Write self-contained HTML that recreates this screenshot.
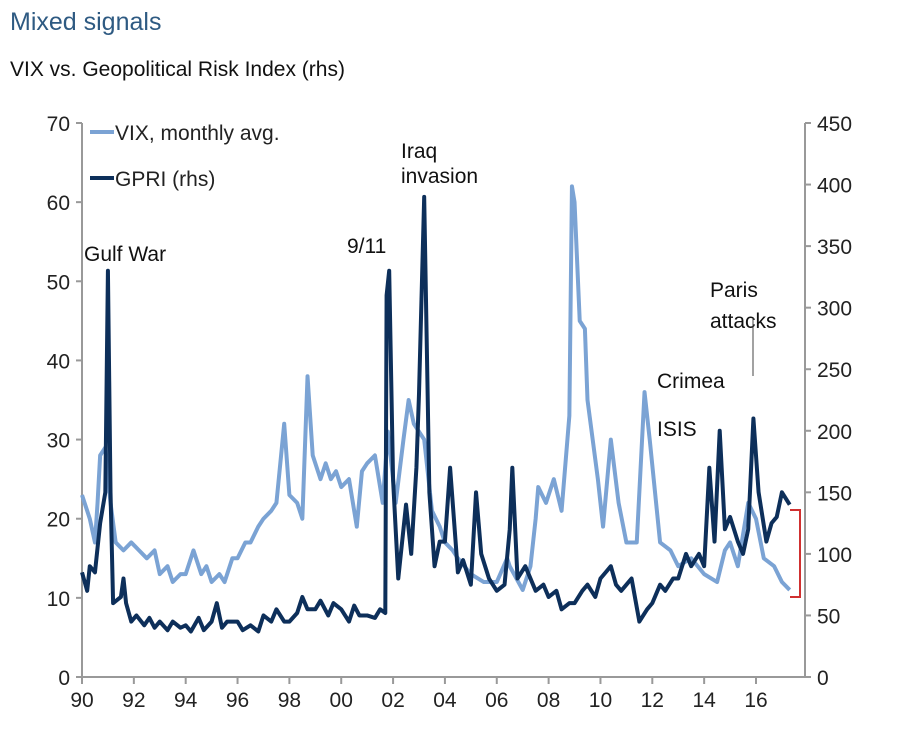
<!DOCTYPE html>
<html><head><meta charset="utf-8"><style>
body{margin:0;background:#fff;width:900px;height:734px;overflow:hidden;font-family:"Liberation Sans",sans-serif;}
svg text{font-family:"Liberation Sans",sans-serif;}
</style></head><body>
<svg id="c" width="900" height="734">
<text x="10" y="30" font-size="25" fill="#2e5a82">Mixed signals</text>
<text x="10" y="76" font-size="21" fill="#111">VIX vs. Geopolitical Risk Index (rhs)</text>
<g id="axes"></g>
<g id="marks"></g>
<g>
<line x1="90" y1="132" x2="114" y2="132" stroke="#7ba3d4" stroke-width="4"/>
<text x="115" y="140" font-size="21" fill="#222">VIX, monthly avg.</text>
<line x1="90" y1="178" x2="114" y2="178" stroke="#0d2f5a" stroke-width="4"/>
<text x="115" y="186" font-size="21" fill="#222">GPRI (rhs)</text>
</g>
<g font-size="21" fill="#111">
<text x="84" y="261">Gulf War</text>
<text x="347" y="253">9/11</text>
<text x="401" y="158">Iraq</text>
<text x="401" y="183">invasion</text>
<text x="710" y="297">Paris</text>
<text x="710" y="328">attacks</text>
<text x="657" y="388">Crimea</text>
<text x="657" y="436">ISIS</text>
</g>
<line x1="753" y1="318" x2="753" y2="376" stroke="#444" stroke-width="1"/>
<path d="M790,510 H800 V597 H790" fill="none" stroke="#d03030" stroke-width="2"/>
</svg>
<script>
const vixYears=[1990,1990.2,1990.3,1990.5,1990.6,1990.7,1990.9,1991.1,1991.3,1991.6,1991.9,1992.2,1992.5,1992.8,1993,1993.3,1993.5,1993.8,1994,1994.3,1994.6,1994.8,1995,1995.3,1995.5,1995.8,1996,1996.3,1996.5,1996.8,1997,1997.3,1997.5,1997.8,1998,1998.3,1998.5,1998.7,1998.9,1999.2,1999.4,1999.6,1999.8,2000,2000.3,2000.6,2000.8,2001,2001.3,2001.6,2001.8,2002.1,2002.4,2002.6,2002.8,2003.2,2003.5,2003.8,2004,2004.3,2004.5,2005,2005.5,2006,2006.4,2006.5,2007,2007.3,2007.5,2007.6,2007.9,2008.2,2008.5,2008.8,2008.9,2009.0,2009.2,2009.4,2009.5,2009.9,2010.1,2010.4,2010.7,2011,2011.4,2011.7,2011.9,2012.3,2012.7,2013,2013.5,2014,2014.5,2014.8,2015,2015.3,2015.7,2016,2016.3,2016.7,2017,2017.3];
const vixValues=[23,21,20,17,22,28,29,22,17,16,17,16,15,16,13,14,12,13,13,16,13,14,12,13,12,15,15,17,17,19,20,21,22,32,23,22,20,38,28,25,27,25,26,24,25,19,26,27,28,22,31,22,30,35,32,30,21,19,17,16,15,13,12,12,15,14,11,14,20,24,22,25,21,33,62,60,45,44,35,25,19,30,22,17,17,36,30,17,16,14,15,13,12,16,17,14,22,20,15,14,12,11];
const gprYears=[1990,1990.2,1990.3,1990.5,1990.7,1990.9,1991.0,1991.1,1991.2,1991.5,1991.6,1991.7,1991.9,1992.1,1992.4,1992.6,1992.8,1993,1993.3,1993.5,1993.8,1994,1994.2,1994.5,1994.7,1995,1995.2,1995.4,1995.6,1996,1996.2,1996.5,1996.8,1997,1997.3,1997.5,1997.8,1998,1998.3,1998.5,1998.7,1999,1999.2,1999.5,1999.7,2000,2000.3,2000.5,2000.7,2001,2001.3,2001.5,2001.7,2001.75,2001.85,2002.0,2002.2,2002.5,2002.7,2002.9,2003.0,2003.2,2003.4,2003.6,2003.8,2004,2004.2,2004.5,2004.7,2005,2005.2,2005.4,2005.7,2006,2006.3,2006.5,2006.6,2006.8,2007.1,2007.5,2007.8,2008,2008.3,2008.5,2008.8,2009,2009.3,2009.5,2009.8,2010,2010.2,2010.4,2010.6,2010.8,2011,2011.2,2011.5,2011.8,2012,2012.3,2012.5,2012.8,2013,2013.3,2013.5,2013.8,2014,2014.2,2014.4,2014.6,2014.8,2015,2015.3,2015.5,2015.7,2015.9,2016.1,2016.4,2016.6,2016.8,2017,2017.3];
const gprValues=[85,70,90,85,125,150,330,150,60,65,80,60,45,50,42,48,40,45,38,45,40,42,37,48,38,45,60,40,45,45,38,42,37,50,45,55,45,45,52,65,55,55,62,50,60,55,45,58,50,50,48,55,52,310,330,160,80,140,100,170,230,390,150,90,110,110,170,85,95,75,150,100,80,70,75,120,170,80,90,70,75,65,70,55,60,60,70,75,65,80,85,90,75,70,75,80,45,55,60,75,70,80,80,100,90,100,90,170,110,200,120,130,110,100,120,210,150,110,125,130,150,140];
const leftTicks=[0,10,20,30,40,50,60,70];
const rightTicks=[0,50,100,150,200,250,300,350,400,450];
const xTickLabels=["90","92","94","96","98","00","02","04","06","08","10","12","14","16"];
const X0=82,X1=805,Y0=677,Y1=123;
const xs=y=>X0+(y-1990)*(756-82)/26;
const yl=v=>Y0-(v/70)*(Y0-Y1);
const yr=v=>Y0-(v/450)*(Y0-Y1);
const NS="http://www.w3.org/2000/svg";
const ax=document.getElementById('axes'),mk=document.getElementById('marks');
function mkEl(t,a,p){const e=document.createElementNS(NS,t);for(const k in a)e.setAttribute(k,a[k]);p.appendChild(e);return e;}
let e;
e=mkEl('path',{d:`M${X0},${Y1} V${Y0} H${X1} V${Y1}`,fill:'none',stroke:'#999','stroke-width':2},ax);


leftTicks.forEach(v=>{
 const l=mkEl('line',{x1:X0-6,x2:X0,y1:yl(v),y2:yl(v),stroke:'#999','stroke-width':2},ax);
 
 
 const t=mkEl('text',{x:X0-12,y:yl(v)+8,'text-anchor':'end','font-size':21,fill:'#222'},ax);t.textContent=v;
 
 
});
rightTicks.forEach(v=>{
 const l=mkEl('line',{x1:X1,x2:X1+6,y1:yr(v),y2:yr(v),stroke:'#999','stroke-width':2},ax);
 
 
 const t=mkEl('text',{x:X1+12,y:yr(v)+8,'font-size':21,fill:'#222'},ax);t.textContent=v;
 
 
});
xTickLabels.forEach((s,i)=>{
 const x=xs(1990+2*i);
 const l=mkEl('line',{x1:x,x2:x,y1:Y0,y2:Y0+7,stroke:'#999','stroke-width':2},ax);
 
 
 const t=mkEl('text',{x:x,y:Y0+30,'text-anchor':'middle','font-size':21,fill:'#222'},ax);t.textContent=s;
 
 
});
e=mkEl('polyline',{points:vixYears.map((y,i)=>xs(y)+','+yl(vixValues[i])).join(' '),fill:'none',stroke:'#7ba3d4','stroke-width':4,'stroke-linejoin':'round'},mk);


e=mkEl('polyline',{points:gprYears.map((y,i)=>xs(y)+','+yr(gprValues[i])).join(' '),fill:'none',stroke:'#0d2f5a','stroke-width':4,'stroke-linejoin':'round'},mk);


</script>
</body></html>
